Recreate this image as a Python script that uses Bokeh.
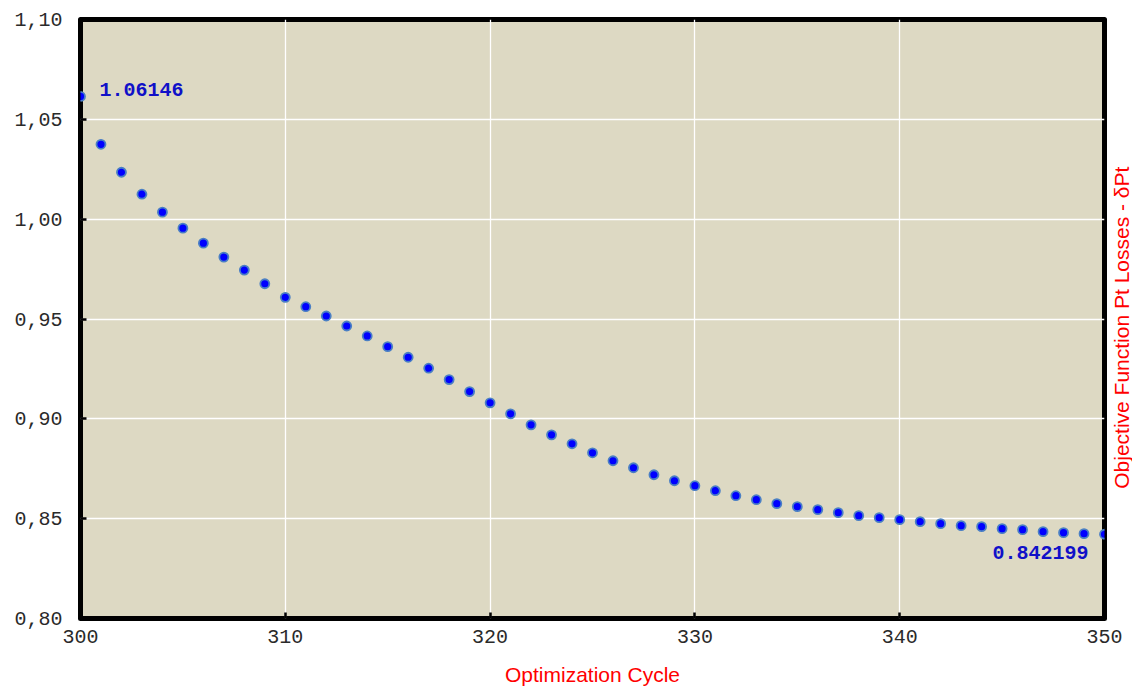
import math
from bokeh.plotting import figure
from bokeh.layouts import row
from bokeh.models import Range1d, FixedTicker, CustomJSTickFormatter, ColumnDataSource
from bokeh.core.properties import value
from bokeh.embed import file_html
from bokeh.resources import INLINE

cycles = list(range(300, 351))
losses = [1.06146, 1.0375, 1.0235, 1.0125, 1.0035, 0.9955, 0.988, 0.981, 0.9745, 0.96765,
          0.96085, 0.95615, 0.9515, 0.9465, 0.9415, 0.93615, 0.93085, 0.92535, 0.91965, 0.91365,
          0.908, 0.9025, 0.897, 0.892, 0.8875, 0.883, 0.879, 0.8755, 0.872, 0.869,
          0.8665, 0.864, 0.8615, 0.8595, 0.8575, 0.856, 0.8545, 0.853, 0.8515, 0.8505,
          0.8495, 0.8485, 0.8475, 0.8465, 0.846, 0.845, 0.8445, 0.8435, 0.843, 0.8425,
          0.842199]
x_ticks = [300, 310, 320, 330, 340, 350]
y_ticks = [0.80, 0.85, 0.90, 0.95, 1.00, 1.05, 1.10]
x_label = "Optimization Cycle"
y_label = "Objective Function Pt Losses - δPt"

p = figure(width=1132, height=688, output_backend="svg", toolbar_location=None,
           x_range=Range1d(300, 350), y_range=Range1d(0.80, 1.10),
           min_border_left=80, min_border_right=28, min_border_top=19, min_border_bottom=69,
           x_axis_location="below", y_axis_location="left")
p.background_fill_color = "#DDD9C3"
p.border_fill_color = "white"
p.outline_line_color = "black"
p.outline_line_width = 5
p.outline_line_join = "round"

p.xgrid.grid_line_color = "white"
p.ygrid.grid_line_color = "white"
p.xgrid.grid_line_width = 1.3
p.ygrid.grid_line_width = 1.3

p.xaxis.ticker = FixedTicker(ticks=x_ticks)
p.yaxis.ticker = FixedTicker(ticks=y_ticks)
p.xgrid.ticker = FixedTicker(ticks=x_ticks)
p.ygrid.ticker = FixedTicker(ticks=y_ticks)
p.yaxis.formatter = CustomJSTickFormatter(code="return tick.toFixed(2).replace('.', ',');")
p.xaxis.formatter = CustomJSTickFormatter(code="return tick.toFixed(0);")

for ax in (p.xaxis[0], p.yaxis[0]):
    ax.axis_line_color = None
    ax.major_tick_in = 6
    ax.major_tick_out = 0
    ax.major_tick_line_color = "black"
    ax.major_tick_line_width = 2.5
    ax.minor_tick_line_color = None
    ax.major_label_text_font = "Liberation Mono"
    ax.major_label_text_font_size = "20px"
    ax.major_label_text_color = "#2a2a2a"

p.yaxis.major_label_standoff = 18
p.xaxis.major_label_standoff = 11

p.xaxis.axis_label = x_label
p.xaxis.axis_label_text_font = "Liberation Sans"
p.xaxis.axis_label_text_font_style = "normal"
p.xaxis.axis_label_text_font_size = "21px"
p.xaxis.axis_label_text_color = "red"
p.xaxis.axis_label_standoff = 17

src = ColumnDataSource(dict(x=cycles, y=losses))
p.scatter("x", "y", source=src, size=9, fill_color="#0000FF", line_color="#4A7FC4", line_width=1.8)

p.text(x=[cycles[0]], y=[losses[0]], text=[f"{losses[0]:g}"], x_offset=19, y_offset=-7,
       text_font=value("Liberation Mono"), text_font_style="bold", text_font_size="20px",
       text_color="#1010C8", text_baseline="middle", text_align="left")
p.text(x=[cycles[-1]], y=[losses[-1]], text=[f"{losses[-1]:g}"], x_offset=-16, y_offset=18,
       text_font=value("Liberation Mono"), text_font_style="bold", text_font_size="20px",
       text_color="#1010C8", text_baseline="middle", text_align="right")

# transparent narrow panel, pulled back over the right border, holding the rotated title
lab = figure(width=28, height=688, output_backend="svg", toolbar_location=None,
             x_range=Range1d(0, 28), y_range=Range1d(0, 688),
             x_axis_type=None, y_axis_type=None, margin=(0, 0, 0, -28),
             min_border_left=0, min_border_right=0, min_border_top=0, min_border_bottom=0)
lab.outline_line_color = None
lab.xgrid.visible = False
lab.ygrid.visible = False
lab.background_fill_color = None
lab.border_fill_color = None
lab.text(x=[17], y=[334], text=[y_label], angle=math.pi / 2,
         text_font=value("Liberation Sans"), text_font_size="21px", text_color="red",
         text_align="center", text_baseline="middle")

open("out.html", "w").write(file_html(row(p, lab), INLINE))
